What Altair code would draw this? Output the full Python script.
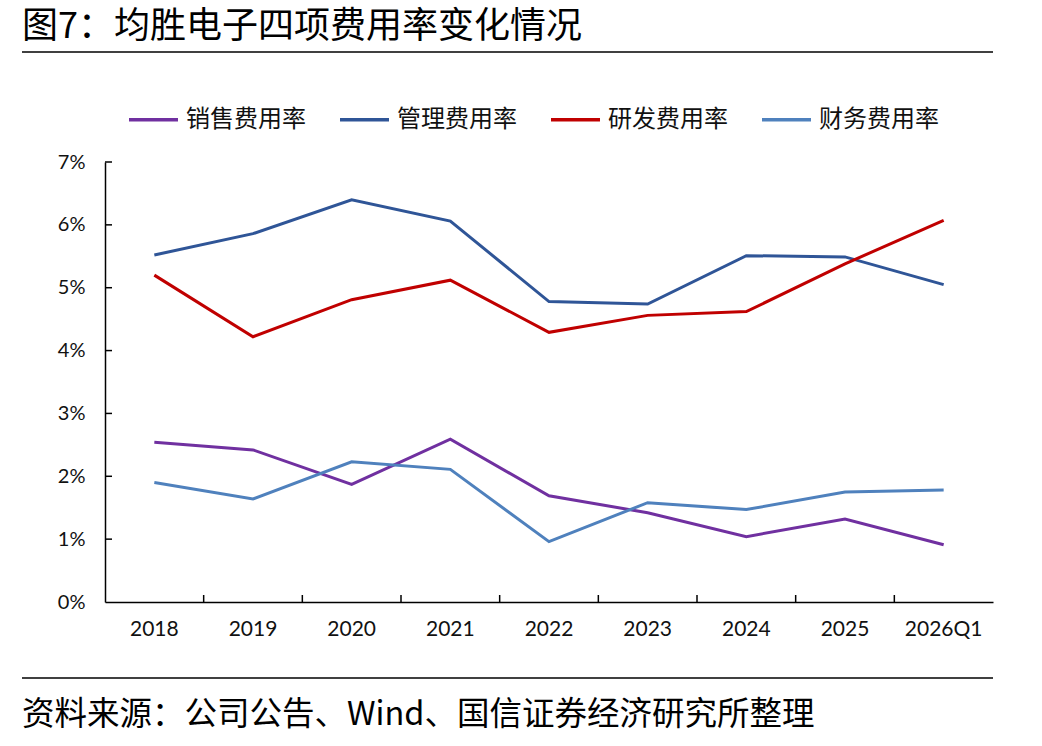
import altair as alt
import pandas as pd

# ---- data ----
categories = ["2018", "2019", "2020", "2021", "2022", "2023", "2024", "2025", "2026Q1"]
series_names = ["销售费用率", "管理费用率", "研发费用率", "财务费用率"]
sales_rate = [2.54, 2.42, 1.87, 2.59, 1.69, 1.42, 1.04, 1.32, 0.91]
admin_rate = [5.52, 5.86, 6.40, 6.06, 4.78, 4.74, 5.51, 5.49, 5.05]
rnd_rate = [5.20, 4.22, 4.81, 5.12, 4.29, 4.56, 4.62, 5.38, 6.07]
fin_rate = [1.90, 1.64, 2.23, 2.11, 0.96, 1.58, 1.47, 1.75, 1.78]
y_ticks = [0, 1, 2, 3, 4, 5, 6, 7]
colors = ["#7030A0", "#2F5597", "#C00000", "#4F81BD"]

title_text = "图7：均胜电子四项费用率变化情况"
source_text = "资料来源：公司公告、Wind、国信证券经济研究所整理"

rows = []
for name, vals in zip(series_names, [sales_rate, admin_rate, rnd_rate, fin_rate]):
    for c, v in zip(categories, vals):
        rows.append({"cat": c, "series": name, "value": v})
df = pd.DataFrame(rows)

W, H = 888, 440
CJK = "Noto Sans CJK SC"

xscale = alt.Scale(type="band", domain=categories, paddingInner=0, paddingOuter=0)
yscale = alt.Scale(domain=[0, 7], nice=False, zero=True)

lines = alt.Chart(df).mark_line(strokeWidth=3).encode(
    x=alt.X("cat:N", scale=xscale, sort=categories, bandPosition=0.5,
            axis=alt.Axis(title=None, labelAngle=0, ticks=False, tickSize=0,
                          labelFont="Lato", labelFontSize=21, labelColor="#111111",
                          labelPadding=16, domainColor="#000000", domainWidth=1.5)),
    y=alt.Y("value:Q", scale=yscale,
            axis=alt.Axis(title=None, values=y_ticks, labelExpr="datum.value + '%'",
                          ticks=False, tickSize=0, grid=False,
                          labelFont="Lato", labelFontSize=20, labelColor="#111111",
                          labelPadding=20, domainColor="#000000", domainWidth=1.5)),
    color=alt.Color("series:N", sort=series_names,
                    scale=alt.Scale(domain=series_names, range=colors),
                    legend=alt.Legend(title=None, orient="none", direction="horizontal",
                                      legendX=22, legendY=-69,
                                      symbolType="stroke", symbolSize=2400,
                                      symbolStrokeWidth=3.5, labelFont=CJK,
                                      labelFontSize=24, labelColor="#111111",
                                      labelOffset=6, columnPadding=27)),
    order=alt.Order("series:N"),
)

xtick_df = pd.DataFrame({"cat": categories[1:]})
xticks = alt.Chart(xtick_df).mark_rule(color="#000000", strokeWidth=1.5).encode(
    x=alt.X("cat:N", scale=xscale, sort=categories, bandPosition=0),
    y=alt.value(H - 7),
    y2=alt.value(H),
)

ytick_df = pd.DataFrame({"t": y_ticks[1:]})
yticks = alt.Chart(ytick_df).mark_rule(color="#000000", strokeWidth=1.5).encode(
    y=alt.Y("t:Q", scale=yscale),
    x=alt.value(0),
    x2=alt.value(7),
)

title = alt.Chart(pd.DataFrame({"t": [title_text]})).mark_text(
    align="left", baseline="middle", font=CJK, fontSize=36, color="#000000"
).encode(x=alt.value(-83), y=alt.value(-135), text="t:N")

source = alt.Chart(pd.DataFrame({"t": [source_text]})).mark_text(
    align="left", baseline="middle", font=CJK, fontSize=32.5, color="#000000"
).encode(x=alt.value(-83), y=alt.value(553), text="t:N")

top_rule = alt.Chart(pd.DataFrame({"t": [0]})).mark_rule(color="#000000", strokeWidth=1.5).encode(
    x=alt.value(-83), x2=alt.value(W), y=alt.value(-110)
)
bottom_rule = alt.Chart(pd.DataFrame({"t": [0]})).mark_rule(color="#000000", strokeWidth=1.5).encode(
    x=alt.value(-83), x2=alt.value(W), y=alt.value(516)
)

chart = alt.layer(lines, xticks, yticks, title, source, top_rule, bottom_rule).properties(
    width=W, height=H,
    padding={"left": 105, "top": 162, "right": 49, "bottom": 144},
    autosize=alt.AutoSizeParams(type="none"),
    background="white",
).configure_view(stroke=None)

chart.save("out.html", embed_options={"renderer": "svg", "actions": False})
